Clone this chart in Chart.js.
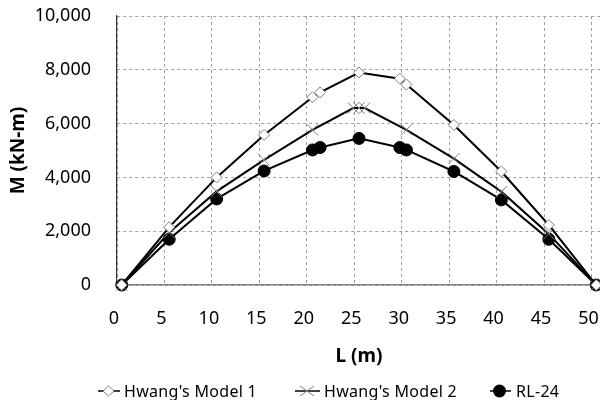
<!DOCTYPE html>
<html><head><meta charset="utf-8">
<script src="https://cdn.jsdelivr.net/npm/chart.js"></script>
<style>
html,body{margin:0;padding:0;width:600px;height:400px;overflow:hidden;background:#fff;}
#wrap{position:relative;width:620px;height:400px;}
canvas{display:block}
.leg{position:absolute;top:379px;height:24px;font-size:16px;font-family:"Noto Sans",sans-serif;color:#000;display:flex;align-items:center;white-space:nowrap;letter-spacing:0.3px}
.leg svg{display:block;margin-right:3px}
</style></head><body>
<div id="wrap"><canvas id="c" width="620" height="400" style="width:620px;height:400px"></canvas>
<div class="leg" style="left:97px"><svg width="24" height="20"><line x1="1" y1="10" x2="23" y2="10" stroke="#000" stroke-width="1.5"/><polygon points="6,10 11.5,5 17,10 11.5,15" fill="#fff" stroke="#808080" stroke-width="1"/></svg><span id="l1"></span></div>
<div class="leg" style="left:294px"><svg width="27" height="20"><line x1="1" y1="10" x2="26" y2="10" stroke="#000" stroke-width="1.5"/><line x1="6" y1="5" x2="20" y2="15" stroke="#808080" stroke-width="1"/><line x1="6" y1="15" x2="20" y2="5" stroke="#808080" stroke-width="1"/></svg><span id="l2"></span></div>
<div class="leg" style="left:489px"><svg width="24" height="20"><line x1="1" y1="10" x2="22" y2="10" stroke="#000" stroke-width="1.5"/><circle cx="10.5" cy="10" r="6.5" fill="#000"/></svg><span id="l3"></span></div>
</div>
<script>
const seriesNames = ["Hwang's Model 1", "Hwang's Model 2", "RL-24"];
const m1L = [0.5, 5.5, 10.5, 15.5, 20.6, 21.4, 25.5, 29.8, 30.5, 35.5, 40.5, 45.5, 50.5];
const m1M = [0, 2150, 4000, 5580, 6980, 7160, 7900, 7670, 7450, 5950, 4220, 2230, 0];
const m2L = [0.5, 5.5, 10.5, 15.5, 20.6, 24.9, 25.5, 26.1, 30.5, 35.5, 40.5, 45.5, 50.5];
const m2M = [0, 1950, 3480, 4650, 5770, 6580, 6580, 6580, 5770, 4700, 3470, 1900, 0];
const rlL = [0.5, 5.5, 10.5, 15.5, 20.6, 21.4, 25.5, 29.8, 30.5, 35.5, 40.5, 45.5, 50.5];
const rlM = [0, 1700, 3200, 4240, 5020, 5110, 5450, 5110, 5020, 4220, 3165, 1700, 0];
const yTicks = [0, 2000, 4000, 6000, 8000, 10000];
const xTicks = [0, 5, 10, 15, 20, 25, 30, 35, 40, 45, 50];

document.getElementById('l1').textContent = seriesNames[0];
document.getElementById('l2').textContent = seriesNames[1];
document.getElementById('l3').textContent = seriesNames[2];

const pts = (xs, ys) => xs.map((x, i) => ({x: x, y: ys[i]}));
const tickFont = {family: "'Noto Sans', sans-serif", size: 18};
const titleFont = {family: "'Noto Sans', sans-serif", size: 19, weight: 'bold'};

new Chart(document.getElementById('c'), {
  type: 'scatter',
  data: {
    datasets: [
      {label: seriesNames[0], data: pts(m1L, m1M), showLine: true, borderColor: '#000', borderWidth: 2,
       pointStyle: 'rectRot', pointRadius: 5.5, pointBorderColor: '#808080', pointBackgroundColor: '#fff', pointBorderWidth: 1, clip: false},
      {label: seriesNames[1], data: pts(m2L, m2M), showLine: true, borderColor: '#000', borderWidth: 2,
       pointStyle: 'crossRot', pointRadius: 8, pointBorderColor: '#808080', pointBackgroundColor: '#808080', pointBorderWidth: 1, clip: false},
      {label: seriesNames[2], data: pts(rlL, rlM), showLine: true, borderColor: '#000', borderWidth: 2,
       pointStyle: 'circle', pointRadius: 6, pointBorderColor: '#000', pointBackgroundColor: '#000', pointBorderWidth: 1, clip: false}
    ]
  },
  options: {
    responsive: false,
    animation: false,
    layout: {padding: {left: 0, right: 19, top: 16, bottom: 30}},
    plugins: {legend: {display: false}, tooltip: {enabled: false}},
    scales: {
      x: {
        type: 'linear', min: 0, max: 51,
        afterBuildTicks: s => { s.ticks = xTicks.map(v => ({value: v})); },
        afterFit: s => { s.height = 85; s.paddingLeft = 0; s.paddingRight = 0; s.paddingTop = 0; s.paddingBottom = 0; },
        ticks: {font: tickFont, color: '#000', padding: 23, labelOffset: -3, maxRotation: 0, autoSkip: false},
        grid: {color: '#a0a0a0', lineWidth: 1, drawTicks: false},
        border: {color: '#808080', width: 1.5, dash: [3, 3]},
        title: {display: true, text: 'L (m)', font: titleFont, color: '#000', padding: {top: 0, bottom: 2}}
      },
      y: {
        type: 'linear', min: 0, max: 10000,
        afterBuildTicks: s => { s.ticks = yTicks.map(v => ({value: v})); },
        afterFit: s => { s.width = 117; s.paddingTop = 0; s.paddingBottom = 0; s.paddingLeft = 0; s.paddingRight = 0; },
        ticks: {font: tickFont, color: '#000', padding: 26, callback: v => v.toLocaleString('en-US')},
        grid: {color: '#a0a0a0', lineWidth: 1, drawTicks: false},
        border: {color: '#333', width: 1.2, dash: [3, 3]},
        title: {display: true, text: 'M (kN-m)', font: titleFont, color: '#000', padding: {top: 7, bottom: 0}}
      }
    }
  }
});
</script>
</body></html>
